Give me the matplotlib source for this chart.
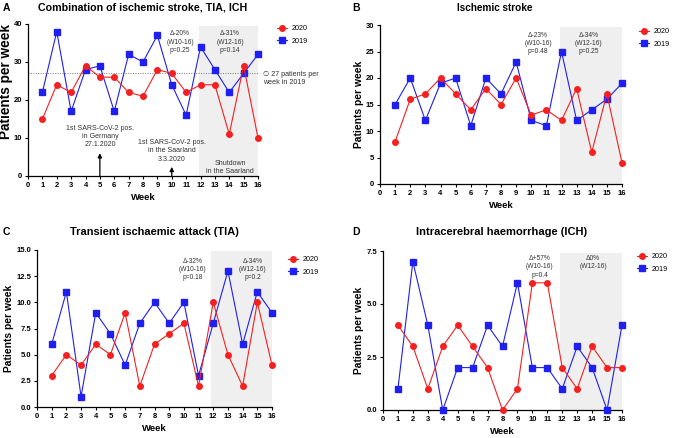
import matplotlib
matplotlib.use("Agg")
import matplotlib.pyplot as plt
import numpy as np

plt.rcParams['font.family'] = ['Liberation Sans', 'DejaVu Sans']

weeks = list(range(1, 17))

a_2020 = [15, 24, 22, 29, 26, 26, 22, 21, 28, 27, 22, 24, 24, 11, 29, 10]
a_2019 = [22, 38, 17, 28, 29, 17, 32, 30, 37, 24, 16, 34, 28, 22, 27, 32]
b_2020 = [8, 16, 17, 20, 17, 14, 18, 15, 20, 13, 14, 12, 18, 6, 17, 4]
b_2019 = [15, 20, 12, 19, 20, 11, 20, 17, 23, 12, 11, 25, 12, 14, 16, 19]
c_2020 = [3, 5, 4, 6, 5, 9, 2, 6, 7, 8, 2, 10, 5, 2, 10, 4]
c_2019 = [6, 11, 1, 9, 7, 4, 8, 10, 8, 10, 3, 8, 13, 6, 11, 9]
d_2020 = [4, 3, 1, 3, 4, 3, 2, 0, 1, 6, 6, 2, 1, 3, 2, 2]
d_2019 = [1, 7, 4, 0, 2, 2, 4, 3, 6, 2, 2, 1, 3, 2, 0, 4]

titles = ["Combination of ischemic stroke, TIA, ICH", "Ischemic stroke",
          "Transient ischaemic attack (TIA)", "Intracerebral haemorrhage (ICH)"]
letters = ["A", "B", "C", "D"]

RED = "#f52020"
BLUE = "#1f1ff0"
TXT = "#333333"

W, H = 673, 438
fig = plt.figure(figsize=(W / 100, H / 100), dpi=100)


def add_ax(l, r, t, b):
    return fig.add_axes([l / W, 1 - b / H, (r - l) / W, (b - t) / H])


panels = [
    dict(box=(28, 258, 24, 176), d20=a_2020, d19=a_2019, ymax=40, yt=np.arange(0, 41, 10), fmt="%d",
         shade=(11.9, 39.5), title_xy=(143, 8), title_fs=7.7, letter_xy=(3, 8), leg=(277, 25.0),
         ylab_r=13, ylab_fs=9.8, ylab_y=0.62),
    dict(box=(380, 622, 25, 184), d20=b_2020, d19=b_2019, ymax=30, yt=np.arange(0, 31, 5), fmt="%d",
         shade=(11.9, 29.7), title_xy=(495, 8), title_fs=7.2, letter_xy=(352, 8), leg=(639, 28.0),
         ylab_r=364, ylab_fs=7.4, ylab_y=0.5),
    dict(box=(37, 272, 250, 407), d20=c_2020, d19=c_2019, ymax=15, yt=np.arange(0, 15.1, 2.5), fmt="%.1f",
         shade=(11.85, 14.9), title_xy=(154, 232), title_fs=7.9, letter_xy=(3, 232), leg=(288, 256.0),
         ylab_r=14, ylab_fs=7.4, ylab_y=0.5),
    dict(box=(383, 622, 251, 410), d20=d_2020, d19=d_2019, ymax=7.5, yt=np.arange(0, 7.6, 2.5), fmt="%.1f",
         shade=(11.85, 7.4), title_xy=(502, 232), title_fs=8.0, letter_xy=(352, 232), leg=(637, 253.0),
         ylab_r=364, ylab_fs=7.4, ylab_y=0.5),
]

axes = []
for i, p in enumerate(panels):
    ax = add_ax(*p["box"])
    axes.append(ax)
    ax.set_xlim(0, 16)
    ax.set_ylim(0, p["ymax"])
    ax.axvspan(p["shade"][0], 16, ymin=0, ymax=p["shade"][1] / p["ymax"], color="#efefef", lw=0, zorder=0)
    l19, = ax.plot(weeks, p["d19"], color=BLUE, marker="s", ms=4.0, lw=0.8, clip_on=False, zorder=3, label="2019")
    l20, = ax.plot(weeks, p["d20"], color=RED, marker="o", ms=4.0, lw=0.8, clip_on=False, zorder=4, label="2020")
    ax.spines["top"].set_visible(False)
    ax.spines["right"].set_visible(False)
    for s in ("left", "bottom"):
        ax.spines[s].set_linewidth(0.9)
    ax.set_xticks(range(0, 17))
    ax.set_yticks(p["yt"])
    ax.set_yticklabels([p["fmt"] % v for v in p["yt"]])
    ax.tick_params(labelsize=5.5, width=0.8, length=2.5, pad=1.5)
    for lab in ax.get_xticklabels() + ax.get_yticklabels():
        lab.set_fontweight("bold")
    ax.set_xlabel("Week", fontsize=6.8, fontweight="bold", labelpad=3)
    ax.set_ylabel("Patients per week", fontsize=p["ylab_fs"], fontweight="bold")
    bl, br, bt, bb = p["box"]
    ax.yaxis.set_label_coords((p["ylab_r"] - bl) / (br - bl), p["ylab_y"])
    fig.text(p["title_xy"][0] / W, 1 - p["title_xy"][1] / H, titles[i], ha="center", va="center",
             fontsize=p["title_fs"], fontweight="bold")
    fig.text(p["letter_xy"][0] / W, 1 - p["letter_xy"][1] / H, letters[i], ha="left", va="center",
             fontsize=7.5, fontweight="bold")
    ax.legend(handles=[l20, l19], loc="upper left", bbox_to_anchor=(p["leg"][0] / W, 1 - p["leg"][1] / H),
              bbox_transform=fig.transFigure, frameon=False, fontsize=5.2, handlelength=1.4,
              handletextpad=0.6, labelspacing=0.75, borderaxespad=0, borderpad=0)

afs = 4.8
nfs = 5.0
LS = 1.25
# Panel A annotations
ax = axes[0]
ax.axhline(27, color="#777777", lw=0.7, ls=(0, (1, 1.5)), zorder=1)
ax.text(10.57, 35.2, "Δ-20%\n(W10-16)\np=0.25", ha="center", va="center", fontsize=afs, color=TXT, linespacing=LS)
ax.text(14.05, 35.2, "Δ-31%\n(W12-16)\np=0.14", ha="center", va="center", fontsize=afs, color=TXT, linespacing=LS)
fig.text(263 / W, 1 - 78 / H, "∅ 27 patients per\nweek in 2019", ha="left", va="center", fontsize=5.1, color=TXT,
         linespacing=1.2)
ax.annotate("", xy=(5, 6.0), xytext=(5, 0), arrowprops=dict(arrowstyle="-|>", color="black", lw=0.9,
                                                          mutation_scale=6, shrinkA=0, shrinkB=0))
ax.text(5, 7.3, "1st SARS-CoV-2 pos.\nin Germany\n27.1.2020", ha="center", va="bottom", fontsize=nfs,
        color=TXT, linespacing=LS)
ax.annotate("", xy=(10, 2.4), xytext=(10, 0), arrowprops=dict(arrowstyle="-|>", color="black", lw=0.9,
                                                            mutation_scale=6, shrinkA=0, shrinkB=0))
ax.text(10, 3.5, "1st SARS-CoV-2 pos.\nin the Saarland\n3.3.2020", ha="center", va="bottom", fontsize=nfs,
        color=TXT, linespacing=LS)
ax.text(14.05, 0.3, "Shutdown\nin the Saarland", ha="center", va="bottom", fontsize=nfs, color=TXT,
        linespacing=LS)

# Panel B
ax = axes[1]
ax.text(10.45, 26.5, "Δ-23%\n(W10-16)\np=0.48", ha="center", va="center", fontsize=afs, color=TXT, linespacing=LS)
ax.text(13.8, 26.5, "Δ-34%\n(W12-16)\np=0.25", ha="center", va="center", fontsize=afs, color=TXT, linespacing=LS)

# Panel C
ax = axes[2]
ax.text(10.6, 13.15, "Δ-32%\n(W10-16)\np=0.18", ha="center", va="center", fontsize=afs, color=TXT, linespacing=LS)
ax.text(14.7, 13.15, "Δ-34%\n(W12-16)\np=0.2", ha="center", va="center", fontsize=afs, color=TXT, linespacing=LS)

# Panel D
ax = axes[3]
ax.text(10.5, 6.75, "Δ+57%\n(W10-16)\np=0.4", ha="center", va="center", fontsize=afs, color=TXT, linespacing=LS)
ax.text(14.06, 7.3, "Δ0%\n(W12-16)", ha="center", va="top", fontsize=afs, color=TXT, linespacing=LS)

fig.savefig("out.png", dpi=100)
